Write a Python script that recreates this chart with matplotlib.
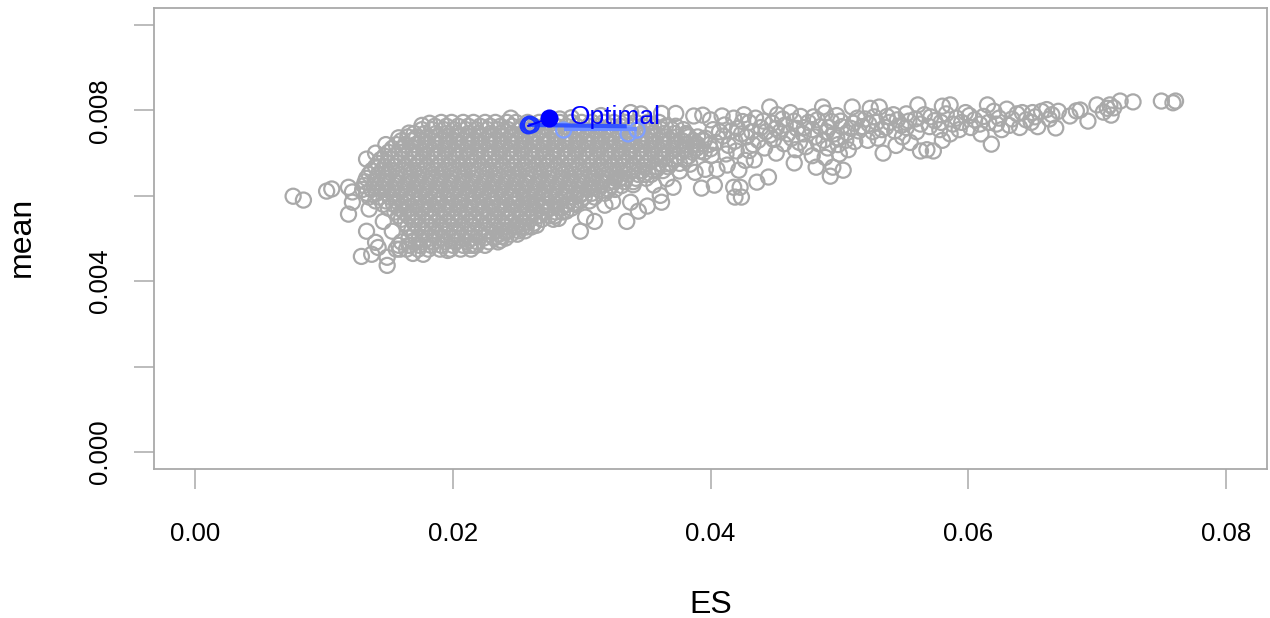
import matplotlib
matplotlib.use("Agg")
import matplotlib.pyplot as plt

GREY = "#A9A9A9"

# ES and mean are read off the picture, in units of 0.001
# dense part of the cloud, one list of ES values for each mean level
core_mean = [7.72, 7.55, 7.38, 7.2, 7.02, 6.85, 6.68, 6.5, 6.33, 6.15,
             5.97, 5.8, 5.62, 5.45, 5.27, 5.1, 4.92, 4.75]
core_es = [
    [19.1, 19.9, 20.8, 21.6, 22.5, 23.3, 24.2, 24.9, 25.8, 26.7, 27.4, 28.3, 29.2, 30.0, 30.8, 31.7, 32.5, 33.4, 34.2, 35.1, 36.0],
    [17.6, 18.4, 19.3, 20.1, 21.0, 21.8, 22.7, 23.5, 24.3, 25.2, 26.0, 26.9, 27.7, 28.6, 29.4, 30.2, 31.1, 31.9, 32.8, 33.6, 34.5, 35.3, 36.2, 37.0, 37.9],
    [16.5, 17.2, 18.0, 18.9, 19.7, 20.5, 21.4, 22.2, 23.1, 23.9, 24.8, 25.6, 26.4, 27.3, 28.1, 29.0, 29.8, 30.7, 31.5, 32.3, 33.2, 34.0, 34.9, 35.7, 36.6, 37.4, 38.3, 39.0],
    [15.6, 16.3, 17.1, 17.9, 18.7, 19.6, 20.4, 21.2, 22.1, 22.9, 23.8, 24.6, 25.5, 26.3, 27.1, 28.0, 28.8, 29.7, 30.5, 31.4, 32.2, 33.0, 33.9, 34.7, 35.6, 36.4, 37.3, 38.1, 39.0, 39.9],
    [15.0, 15.8, 16.6, 17.4, 18.3, 19.1, 20.0, 20.8, 21.7, 22.5, 23.3, 24.2, 25.0, 25.9, 26.7, 27.6, 28.4, 29.2, 30.1, 30.9, 31.8, 32.6, 33.5, 34.3, 35.1, 36.0, 36.8, 37.7, 38.6, 39.5],
    [14.4, 15.2, 16.0, 16.9, 17.7, 18.6, 19.4, 20.3, 21.1, 21.9, 22.8, 23.6, 24.5, 25.3, 26.2, 27.0, 27.8, 28.7, 29.5, 30.4, 31.2, 32.1, 32.9, 33.7, 34.6, 35.4, 36.3, 37.2, 38.0],
    [14.0, 14.7, 15.5, 16.4, 17.2, 18.0, 18.9, 19.7, 20.6, 21.4, 22.3, 23.1, 23.9, 24.8, 25.6, 26.5, 27.3, 28.2, 29.0, 29.8, 30.7, 31.5, 32.4, 33.2, 34.1, 34.9, 35.8, 36.7],
    [13.5, 14.2, 15.0, 15.9, 16.7, 17.6, 18.4, 19.2, 20.1, 20.9, 21.8, 22.6, 23.5, 24.3, 25.1, 26.0, 26.8, 27.7, 28.5, 29.4, 30.2, 31.0, 31.9, 32.7, 33.6, 34.4, 35.4],
    [13.2, 14.0, 14.8, 15.6, 16.5, 17.3, 18.2, 19.0, 19.8, 20.7, 21.5, 22.4, 23.2, 24.1, 24.9, 25.7, 26.6, 27.4, 28.3, 29.1, 30.0, 30.8, 31.6, 32.5, 33.3, 34.0],
    [13.0, 13.7, 14.5, 15.3, 16.1, 17.0, 17.8, 18.7, 19.5, 20.3, 21.2, 22.0, 22.9, 23.7, 24.6, 25.4, 26.2, 27.1, 27.9, 28.8, 29.6, 30.5, 31.3, 32.1, 32.6],
    [13.5, 14.3, 15.1, 15.9, 16.8, 17.6, 18.5, 19.3, 20.1, 21.0, 21.8, 22.7, 23.5, 24.4, 25.2, 26.0, 26.9, 27.7, 28.6, 29.4, 30.2, 31.0],
    [14.6, 15.4, 16.2, 17.1, 17.9, 18.8, 19.6, 20.5, 21.3, 22.1, 23.0, 23.8, 24.7, 25.5, 26.4, 27.2, 28.0, 28.9, 29.5],
    [15.5, 16.2, 17.0, 17.9, 18.7, 19.5, 20.4, 21.2, 22.1, 22.9, 23.8, 24.6, 25.4, 26.3, 27.1, 28.0, 28.5],
    [16.0, 16.8, 17.6, 18.4, 19.3, 20.1, 21.0, 21.8, 22.7, 23.5, 24.3, 25.2, 26.0, 26.9],
    [16.5, 17.3, 18.1, 19.0, 19.8, 20.6, 21.5, 22.3, 23.2, 24.0, 24.9, 25.7, 26.1],
    [17.0, 17.8, 18.6, 19.4, 20.3, 21.1, 22.0, 22.8, 23.6, 24.5, 25.0],
    [16.0, 16.9, 17.7, 18.5, 19.4, 20.2, 21.1, 21.9, 22.8, 23.5],
    [15.6, 16.4, 17.3, 18.1, 19.0, 19.8, 20.6, 21.4],
]

# second set of levels between the ones above, the cloud is nearly solid there
core2_mean = [7.63, 7.46, 7.29, 7.11, 6.93, 6.76, 6.59, 6.41, 6.24, 6.06,
              5.88, 5.71, 5.53, 5.36, 5.18, 5.01, 4.84]
core2_es = [
    [18.6, 19.5, 20.4, 21.2, 22.1, 22.9, 23.7, 24.6, 25.4, 26.3, 27.1, 28.0, 28.8, 29.6, 30.5, 31.3, 32.2, 33.0, 33.9, 34.7, 35.6, 36.5, 37.3],
    [17.0, 17.8, 18.7, 19.5, 20.3, 21.2, 22.0, 22.9, 23.7, 24.6, 25.4, 26.2, 27.1, 27.9, 28.8, 29.6, 30.5, 31.3, 32.1, 33.0, 33.8, 34.7, 35.5, 36.4, 37.2, 38.1],
    [16.0, 16.8, 17.5, 18.4, 19.2, 20.1, 20.9, 21.7, 22.6, 23.4, 24.3, 25.1, 26.0, 26.8, 27.6, 28.5, 29.3, 30.2, 31.0, 31.9, 32.7, 33.5, 34.4, 35.2, 36.1, 36.9, 37.8, 38.7, 39.5],
    [15.3, 16.1, 16.9, 17.8, 18.6, 19.4, 20.3, 21.1, 22.0, 22.8, 23.7, 24.5, 25.3, 26.2, 27.0, 27.9, 28.7, 29.5, 30.4, 31.2, 32.1, 32.9, 33.8, 34.6, 35.4, 36.3, 37.1, 38.0, 38.9],
    [14.7, 15.5, 16.3, 17.1, 18.0, 18.8, 19.7, 20.5, 21.3, 22.2, 23.0, 23.9, 24.7, 25.6, 26.4, 27.2, 28.1, 28.9, 29.8, 30.6, 31.5, 32.3, 33.1, 34.0, 34.8, 35.7, 36.5, 37.4, 38.3],
    [14.2, 14.9, 15.7, 16.6, 17.4, 18.3, 19.1, 19.9, 20.8, 21.6, 22.5, 23.3, 24.2, 25.0, 25.8, 26.7, 27.5, 28.4, 29.2, 30.1, 30.9, 31.7, 32.6, 33.4, 34.3, 35.1, 36.0, 36.9, 37.6],
    [13.7, 14.5, 15.3, 16.2, 17.0, 17.8, 18.7, 19.5, 20.4, 21.2, 22.0, 22.9, 23.7, 24.6, 25.4, 26.3, 27.1, 27.9, 28.8, 29.6, 30.5, 31.3, 32.2, 33.0, 33.8, 34.7, 35.6, 36.3],
    [13.3, 14.1, 14.9, 15.7, 16.6, 17.4, 18.3, 19.1, 19.9, 20.8, 21.6, 22.5, 23.3, 24.2, 25.0, 25.8, 26.7, 27.5, 28.4, 29.2, 30.0, 30.9, 31.7, 32.6, 33.4, 34.2, 35.0],
    [13.1, 13.9, 14.6, 15.5, 16.3, 17.1, 18.0, 18.8, 19.7, 20.5, 21.3, 22.2, 23.0, 23.9, 24.7, 25.5, 26.4, 27.2, 28.1, 28.9, 29.8, 30.6, 31.4, 32.3, 33.1],
    [13.3, 14.1, 14.9, 15.7, 16.5, 17.4, 18.2, 19.0, 19.9, 20.7, 21.6, 22.4, 23.3, 24.1, 24.9, 25.8, 26.6, 27.5, 28.3, 29.1, 30.0, 30.8, 31.8],
    [14.0, 14.8, 15.6, 16.4, 17.3, 18.1, 18.9, 19.8, 20.6, 21.5, 22.3, 23.1, 24.0, 24.8, 25.7, 26.5, 27.3, 28.2, 29.0, 29.9, 30.6],
    [15.0, 15.8, 16.6, 17.5, 18.3, 19.2, 20.0, 20.9, 21.7, 22.5, 23.4, 24.2, 25.1, 25.9, 26.8, 27.6, 28.4, 29.2],
    [15.8, 16.5, 17.3, 18.2, 19.0, 19.9, 20.7, 21.6, 22.4, 23.3, 24.1, 24.9, 25.8, 26.6, 27.5, 27.9],
    [16.3, 17.0, 17.9, 18.7, 19.6, 20.4, 21.3, 22.1, 22.9, 23.8, 24.6, 25.5, 26.3],
    [16.8, 17.6, 18.4, 19.2, 20.1, 20.9, 21.7, 22.6, 23.4, 24.3, 25.1, 25.6],
    [16.6, 17.4, 18.2, 19.0, 19.9, 20.7, 21.5, 22.4, 23.2, 24.1],
    [15.8, 16.6, 17.4, 18.3, 19.1, 20.0, 20.8, 21.6, 22.5],
]

# loose points around the dense part and the lower edge
edge_points = [
    (7.6, 5.99), (8.4, 5.90), (10.2, 6.11), (10.6, 6.16), (11.9, 6.20), (12.2, 6.09),
    (11.9, 5.57), (12.2, 5.85), (13.3, 5.17), (12.9, 4.58), (13.7, 4.63), (14.2, 4.79),
    (14.9, 4.37), (14.9, 4.56), (13.3, 6.86), (13.5, 5.69), (14.0, 4.91), (14.6, 5.40),
    (15.3, 5.17), (15.9, 4.75), (16.9, 4.65), (17.7, 4.63), (19.6, 4.72), (21.3, 4.84),
    (21.8, 4.84), (23.7, 4.96), (23.8, 5.05), (24.1, 5.15), (25.4, 5.26), (26.5, 5.31),
    (24.9, 5.31), (27.8, 5.45), (28.2, 5.47), (28.8, 5.64), (29.4, 5.83), (29.9, 5.17),
    (30.3, 5.50), (31.0, 5.40), (31.8, 5.78), (32.4, 5.87), (33.5, 5.40), (33.8, 5.85),
    (34.4, 5.64), (35.1, 5.76), (36.1, 6.01), (36.2, 5.85), (37.1, 6.20), (35.6, 6.25),
    (29.9, 6.02), (30.9, 6.19), (32.0, 6.30), (33.0, 6.42), (34.0, 6.26), (34.9, 6.50),
    (35.8, 6.62), (36.6, 6.40), (37.6, 6.58), (38.4, 6.74), (37.2, 6.85), (26.0, 5.82),
    (27.0, 5.75), (14.0, 7.0), (14.8, 7.2), (15.8, 7.36), (16.6, 7.47), (17.6, 7.65),
    (18.2, 7.7), (24.5, 7.82), (28.3, 7.8), (29.2, 7.83), (31.5, 7.88), (33.8, 7.95),
    (34.6, 7.92), (36.2, 7.93), (37.3, 7.93), (38.7, 7.87), (39.4, 7.89),
]

# the long thin tail towards high ES
tail_points = [
    (39.3, 6.18), (40.3, 6.25), (41.9, 5.97), (42.3, 6.20), (42.4, 5.97), (41.8, 6.20),
    (43.6, 6.32), (44.5, 6.44), (43.4, 6.84), (45.1, 7.0), (46.5, 6.77), (48.2, 6.67),
    (49.3, 6.46), (50.3, 6.6), (49.5, 6.67), (53.4, 7.0), (54.9, 7.38), (56.3, 7.05),
    (56.8, 7.08), (57.3, 7.05), (47.9, 6.94), (48.9, 6.9), (50.0, 6.98), (50.7, 7.08),
    (38.8, 6.55), (39.6, 6.62), (40.5, 6.62), (41.3, 6.72), (42.2, 6.6), (42.7, 6.83),
    (40.1, 6.95), (41.2, 6.98), (42.0, 7.05), (43.0, 7.06), (44.2, 7.12), (45.7, 7.22),
    (46.6, 7.08), (47.4, 7.15), (48.4, 7.22), (49.1, 7.12), (49.9, 7.2), (51.2, 7.27),
    (52.2, 7.3), (53.0, 7.35), (52.6, 7.5), (40.4, 7.25), (41.0, 7.4), (41.9, 7.28),
    (42.8, 7.38), (43.7, 7.3), (44.6, 7.42), (45.4, 7.5), (46.3, 7.35), (47.2, 7.45),
    (48.1, 7.38), (49.0, 7.5), (49.8, 7.36), (50.6, 7.48), (51.5, 7.52), (40.2, 7.55),
    (41.1, 7.66), (42.1, 7.58), (43.0, 7.72), (43.9, 7.6), (44.8, 7.7), (45.8, 7.66),
    (46.7, 7.58), (47.6, 7.72), (48.5, 7.62), (49.4, 7.74), (50.2, 7.62), (51.1, 7.7),
    (40.0, 7.78), (40.9, 7.87), (41.8, 7.82), (42.6, 7.9), (43.5, 7.82), (44.6, 8.08),
    (45.2, 7.9), (46.2, 7.95), (47.0, 7.86), (48.0, 7.85), (48.7, 8.08), (48.9, 7.94),
    (49.8, 7.88), (51.0, 8.08), (52.4, 8.05), (53.1, 8.08), (52.0, 7.8), (52.9, 7.72),
    (53.7, 7.86), (54.5, 7.78), (55.2, 7.92), (56.1, 8.13), (55.9, 7.8), (56.6, 7.9),
    (57.4, 7.76), (58.0, 8.1), (58.6, 8.13), (58.3, 7.92), (59.1, 7.82), (59.8, 7.95),
    (60.5, 7.78), (54.3, 7.52), (55.2, 7.6), (56.0, 7.5), (57.0, 7.62), (57.8, 7.55),
    (58.6, 7.45), (59.3, 7.55), (60.2, 7.6), (61.2, 7.86), (61.8, 7.21), (61.5, 8.13),
    (62.0, 7.98), (62.4, 7.82), (63.0, 8.03), (63.2, 7.65), (63.8, 7.92), (64.5, 7.78),
    (65.0, 7.95), (65.4, 7.62), (65.7, 7.98), (66.1, 8.02), (66.5, 7.9), (66.8, 7.59),
    (67.0, 7.98), (67.9, 7.87), (68.4, 7.99), (68.7, 8.01), (69.3, 7.75), (70.0, 8.13),
    (70.5, 7.96), (71.0, 8.13), (71.1, 7.89), (71.3, 8.06), (71.8, 8.22), (72.8, 8.2),
    (70.8, 8.05), (75.0, 8.22), (75.9, 8.18), (76.1, 8.22), (61.0, 7.45), (62.6, 7.55),
    (64.0, 7.6), (55.5, 7.25), (54.4, 7.18), (53.6, 7.6), (58.0, 7.3),
    # more of the crowded stretch between ES 0.038 and 0.055
    (38.2, 7.42), (38.7, 7.2), (39.2, 7.05), (39.6, 7.35), (40.0, 7.1), (40.7, 7.5),
    (41.4, 7.18), (41.6, 7.52), (42.4, 7.45), (42.5, 7.74), (43.2, 7.5), (43.3, 7.2),
    (44.1, 7.75), (44.3, 7.5), (44.9, 7.32), (45.1, 7.58), (45.6, 7.8), (46.0, 7.45),
    (46.5, 7.75), (46.9, 7.25), (47.3, 7.6), (47.9, 7.55), (48.3, 7.78), (48.8, 7.3),
    (49.2, 7.6), (49.6, 7.45), (50.1, 7.75), (50.5, 7.3), (50.9, 7.58), (51.4, 7.82),
    (51.8, 7.62), (52.3, 7.68), (52.7, 7.85), (53.3, 7.55), (53.9, 7.72), (54.2, 7.9),
    (54.8, 7.65), (55.4, 7.75), (56.3, 7.68), (57.1, 7.85), (57.9, 7.72), (58.8, 7.68),
    (59.5, 7.72), (60.1, 7.88), (60.9, 7.68), (61.6, 7.72), (62.2, 7.68), (63.4, 7.8),
    (64.2, 7.95), (64.9, 7.72), (65.2, 7.85), (66.3, 7.8),
]

# portfolios highlighted in blue, darker ones are nearer the optimum
blue_es = [25.85, 25.95, 26.1]
blue_mean = [7.64, 7.68, 7.66]
light_es = [28.6, 33.6, 34.3]
light_mean = [7.54, 7.45, 7.54]
frontier_es = [25.85, 33.5]
frontier_mean = [7.66, 7.63]
frontier_light_es = [28.6, 34.3]
frontier_light_mean = [7.56, 7.56]
optimal_es = 27.5
optimal_mean = 7.82

x_ticks = [0.00, 0.02, 0.04, 0.06, 0.08]
x_tick_labels = ["0.00", "0.02", "0.04", "0.06", "0.08"]
y_ticks = [0.000, 0.002, 0.004, 0.006, 0.008, 0.010]
y_tick_labels = ["0.000", "", "0.004", "", "0.008", ""]

plt.rcParams["font.family"] = ["Liberation Sans", "DejaVu Sans"]

es_vals = []
mean_vals = []
for m, row in zip(core_mean + core2_mean, core_es + core2_es):
    es_vals += row
    mean_vals += [m] * len(row)
for e, m in edge_points + tail_points:
    es_vals.append(e)
    mean_vals.append(m)

fig = plt.figure(figsize=(12.7, 6.18), dpi=100)
ax = fig.add_axes([154 / 1270, (618 - 469) / 618, (1267 - 154) / 1270, (469 - 8) / 618])

ax.scatter([e / 1000 for e in es_vals], [m / 1000 for m in mean_vals], s=118,
           facecolors="none", edgecolors=GREY, linewidths=1.6, zorder=2)

ax.scatter([e / 1000 for e in light_es], [m / 1000 for m in light_mean], s=118,
           facecolors="none", edgecolors="#7F9FFF", linewidths=1.6, zorder=3)
ax.plot([e / 1000 for e in frontier_light_es], [m / 1000 for m in frontier_light_mean],
        color="#6F8FFF", lw=3, solid_capstyle="butt", zorder=3)
ax.plot([e / 1000 for e in frontier_es], [m / 1000 for m in frontier_mean],
        color="#3355FF", lw=3, solid_capstyle="butt", zorder=4)
ax.scatter([e / 1000 for e in blue_es], [m / 1000 for m in blue_mean], s=118,
           facecolors="none", edgecolors="#1A33FF", linewidths=1.6, zorder=4)
ax.plot([blue_es[0] / 1000, optimal_es / 1000], [blue_mean[0] / 1000, optimal_mean / 1000],
        color="#0000FF", lw=1.5, zorder=5)
ax.scatter([optimal_es / 1000], [optimal_mean / 1000], s=170, color="#0000FF",
           linewidths=0, zorder=5)
ax.text(0.0291, 0.00785, "Optimal", color="#0000FF", fontsize=19, va="center", zorder=6)

ax.set_xlim(-0.0032, 0.0832)
ax.set_ylim(-0.0004, 0.0104)
ax.set_xticks(x_ticks)
ax.set_xticklabels(x_tick_labels)
ax.set_yticks(y_ticks)
ax.set_yticklabels(y_tick_labels, rotation=90, va="center")
ax.tick_params(axis="both", length=14.4, width=1.1, color=GREY, labelsize=18.5)
ax.tick_params(axis="x", pad=24)
ax.tick_params(axis="y", pad=15.5)
for spine in ax.spines.values():
    spine.set_color(GREY)
    spine.set_linewidth(1.3)

fig.text(711 / 1270, 1 - 605 / 618, "ES", fontsize=23, ha="center", va="center")
fig.text(22 / 1270, 1 - 237 / 618, "mean", fontsize=23, rotation=90, ha="center", va="center")

fig.savefig("out.png", dpi=100)
